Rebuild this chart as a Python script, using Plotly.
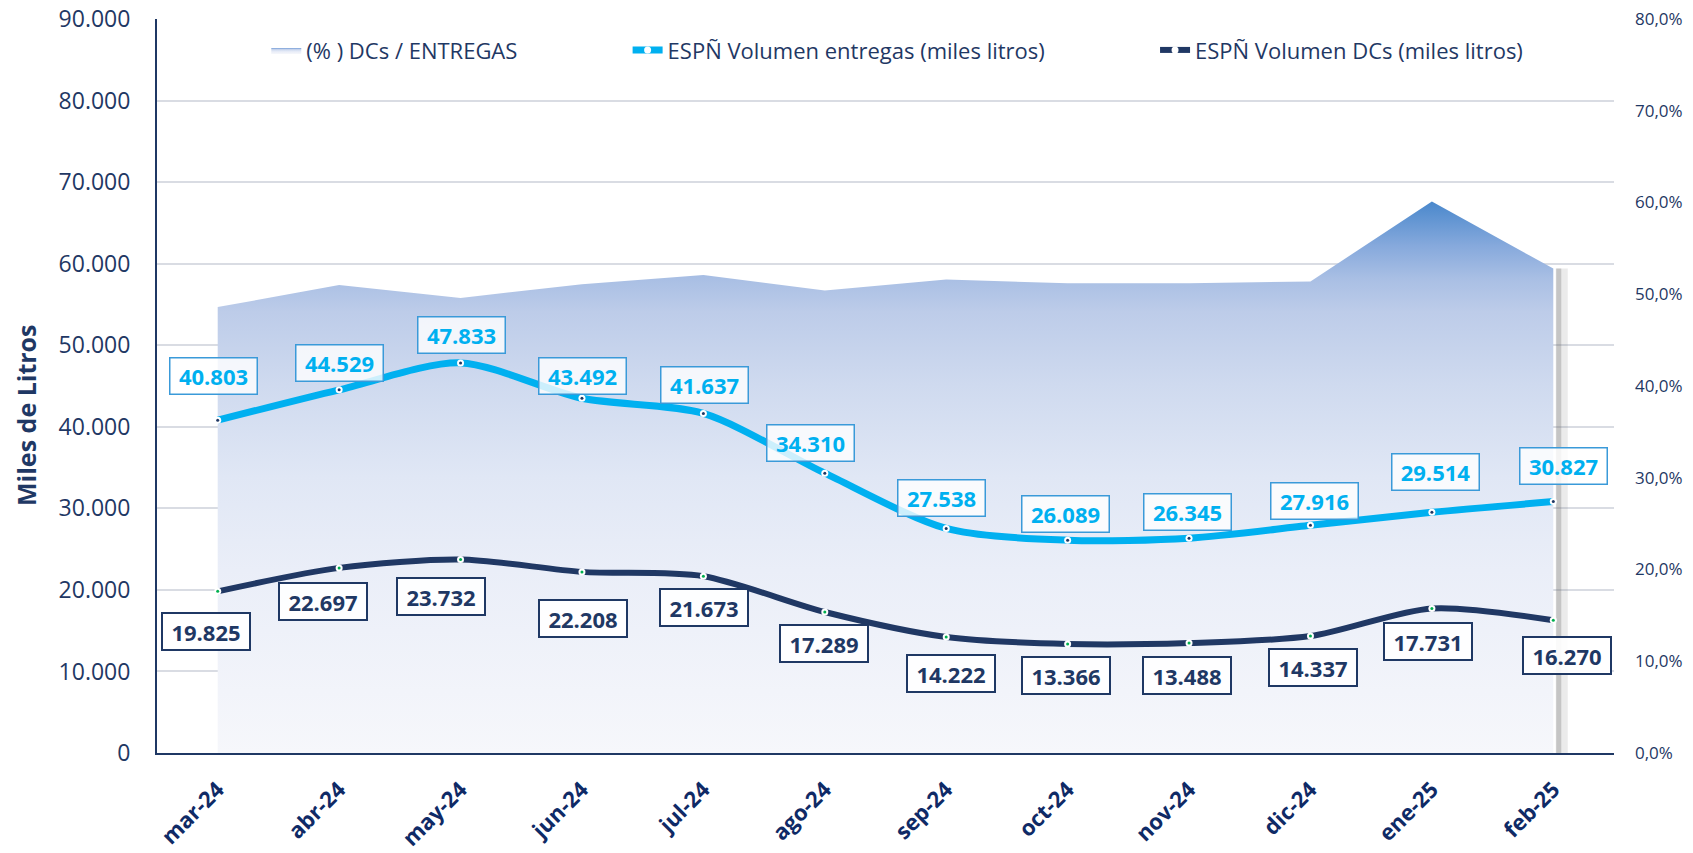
import plotly.graph_objects as go

# ---------------- data ----------------
months = ["mar-24", "abr-24", "may-24", "jun-24", "jul-24", "ago-24",
          "sep-24", "oct-24", "nov-24", "dic-24", "ene-25", "feb-25"]
entregas = [40803, 44529, 47833, 43492, 41637, 34310, 27538, 26089, 26345, 27916, 29514, 30827]
dcs = [19825, 22697, 23732, 22208, 21673, 17289, 14222, 13366, 13488, 14337, 17731, 16270]
pct_dcs_entregas = [0.486, 0.510, 0.496, 0.511, 0.521, 0.504, 0.516, 0.512, 0.512, 0.514, 0.601, 0.528]

# label placement (screen px offsets from the point: dx right, dy down)
ent_label_dx = [-4, 0, 1, 1, 1, -14, -5, -2, -2, 4, 4, 10]
ent_label_dy = [-44, -27, -28, -22, -28, -30, -30, -26, -26, -24, -40, -36]
dcs_label_dx = [-12, -16, -20, 1, 1, -1, 5, -2, -2, 3, -4, 14]
dcs_label_dy = [40, 34, 37, 47, 31, 31, 36, 32, 32, 31, 33, 35]

NAVY = "#1F3864"
LIGHT = "#00B0F0"
FONT = "Open Sans"

x = list(range(len(months)))


def fmt(v):
    return f"{v:,}".replace(",", ".")


fig = go.Figure()

# gradient area (percent axis, drawn underneath)
fig.add_trace(go.Scatter(
    x=x, y=pct_dcs_entregas, yaxis="y", mode="lines",
    line=dict(width=0, color="#a9bfe4"),
    fill="tozeroy",
    fillgradient=dict(
        type="vertical", start=0, stop=max(pct_dcs_entregas),
        colorscale=[[0.0, "#f6f7fb"], [0.333, "#eaeef8"], [0.5, "#e0e7f5"],
                    [0.667, "#cfdaef"], [0.8, "#bdcce9"], [0.86, "#a9bfe4"],
                    [0.92, "#86a9dc"], [1.0, "#4a88cc"]]),
    name="(% ) DCs / ENTREGAS", legend="legend", hoverinfo="skip",
))

# right-edge shadow of the area
fig.add_trace(go.Scatter(
    x=[x[-1] + 0.07, x[-1] + 0.07], y=[0, pct_dcs_entregas[-1]], yaxis="y",
    mode="lines", line=dict(width=12, color="rgba(120,120,120,0.15)"),
    showlegend=False, hoverinfo="skip"))
fig.add_trace(go.Scatter(
    x=[x[-1] + 0.045, x[-1] + 0.045], y=[0, pct_dcs_entregas[-1]], yaxis="y",
    mode="lines", line=dict(width=5, color="rgba(110,110,110,0.3)"),
    showlegend=False, hoverinfo="skip"))

# entregas line (volume axis, on top)
fig.add_trace(go.Scatter(
    x=x, y=entregas, yaxis="y2", mode="lines+markers",
    line=dict(color=LIGHT, width=7, shape="spline", smoothing=0.8),
    marker=dict(color="white", size=7, line=dict(width=0)),
    name="ESPÑ Volumen entregas (miles litros)", legend="legend2",
))
fig.add_trace(go.Scatter(
    x=x, y=entregas, yaxis="y2", mode="markers",
    marker=dict(color=NAVY, size=3), showlegend=False, hoverinfo="skip"))

# DCs line
fig.add_trace(go.Scatter(
    x=x, y=dcs, yaxis="y2", mode="lines+markers",
    line=dict(color="#203864", width=6, shape="spline", smoothing=0.8),
    marker=dict(color="white", size=7, line=dict(width=0)),
    name="ESPÑ Volumen DCs (miles litros)", legend="legend3",
))
fig.add_trace(go.Scatter(
    x=x, y=dcs, yaxis="y2", mode="markers",
    marker=dict(color="#00B050", size=3), showlegend=False, hoverinfo="skip"))

annotations = []
for i in x:
    annotations.append(dict(
        x=i, y=entregas[i], xref="x", yref="y2", text=f"<b>{fmt(entregas[i])}</b>",
        showarrow=False, xshift=ent_label_dx[i], yshift=-ent_label_dy[i],
        font=dict(family=FONT, size=22, color=LIGHT),
        bgcolor="rgba(255,255,255,0.8)", bordercolor="#3A9AD9", borderwidth=1.5,
        borderpad=2, width=82, height=31, align="center", valign="middle"))
    annotations.append(dict(
        x=i, y=dcs[i], xref="x", yref="y2", text=f"<b>{fmt(dcs[i])}</b>",
        showarrow=False, xshift=dcs_label_dx[i], yshift=-dcs_label_dy[i],
        font=dict(family=FONT, size=22, color=NAVY),
        bgcolor="rgba(255,255,255,0.9)", bordercolor=NAVY, borderwidth=2,
        borderpad=2, width=82, height=31, align="center", valign="middle"))

annotations.append(dict(
    x=-0.0895, y=0.46, xref="paper", yref="paper", text="<b>Miles de Litros</b>",
    textangle=-90, showarrow=False, font=dict(family=FONT, size=25, color=NAVY),
    xanchor="center", yanchor="middle"))

legend_font = dict(family=FONT, size=22, color=NAVY)
fig.update_layout(
    width=1693, height=853,
    margin=dict(l=157, r=79, t=19, b=100, autoexpand=False),
    paper_bgcolor="white", plot_bgcolor="white",
    separators=",.",
    font=dict(family=FONT, color=NAVY),
    xaxis=dict(
        range=[-0.5, 11.5], tickmode="array", tickvals=x,
        ticktext=[f"<b>{m}</b>" for m in months], tickangle=-45,
        tickfont=dict(family=FONT, size=22, color="#0F2A66"),
        showgrid=False, zeroline=False, showline=True, linecolor=NAVY, linewidth=2,
        ticks="", ticklabelstandoff=13, automargin=False,
    ),
    yaxis=dict(
        range=[0, 0.8], dtick=0.1, tickformat=".1%", side="right",
        tickfont=dict(family=FONT, size=17, color=NAVY),
        showgrid=False, zeroline=False, showline=False, ticks="",
        ticklabelstandoff=20, automargin=False,
    ),
    yaxis2=dict(
        range=[0, 90000], dtick=10000, tickformat=",d", side="left",
        overlaying="y",
        tickfont=dict(family=FONT, size=23, color=NAVY),
        showgrid=True, gridcolor="#D9DCE3", gridwidth=1.5,
        zeroline=False, showline=True, linecolor=NAVY, linewidth=2,
        ticks="", ticklabelstandoff=20, automargin=False,
    ),
    legend=dict(x=0.075, y=0.9576, xanchor="left", yanchor="middle",
                orientation="h", font=legend_font, bgcolor="rgba(0,0,0,0)"),
    legend2=dict(x=0.323, y=0.9576, xanchor="left", yanchor="middle",
                 orientation="h", font=legend_font, bgcolor="rgba(0,0,0,0)"),
    legend3=dict(x=0.685, y=0.9576, xanchor="left", yanchor="middle",
                 orientation="h", font=legend_font, bgcolor="rgba(0,0,0,0)"),
    annotations=annotations,
    showlegend=True,
)

fig.write_html("out.html", config={"displayModeBar": False},
               post_script="document.body.style.margin='0';")
